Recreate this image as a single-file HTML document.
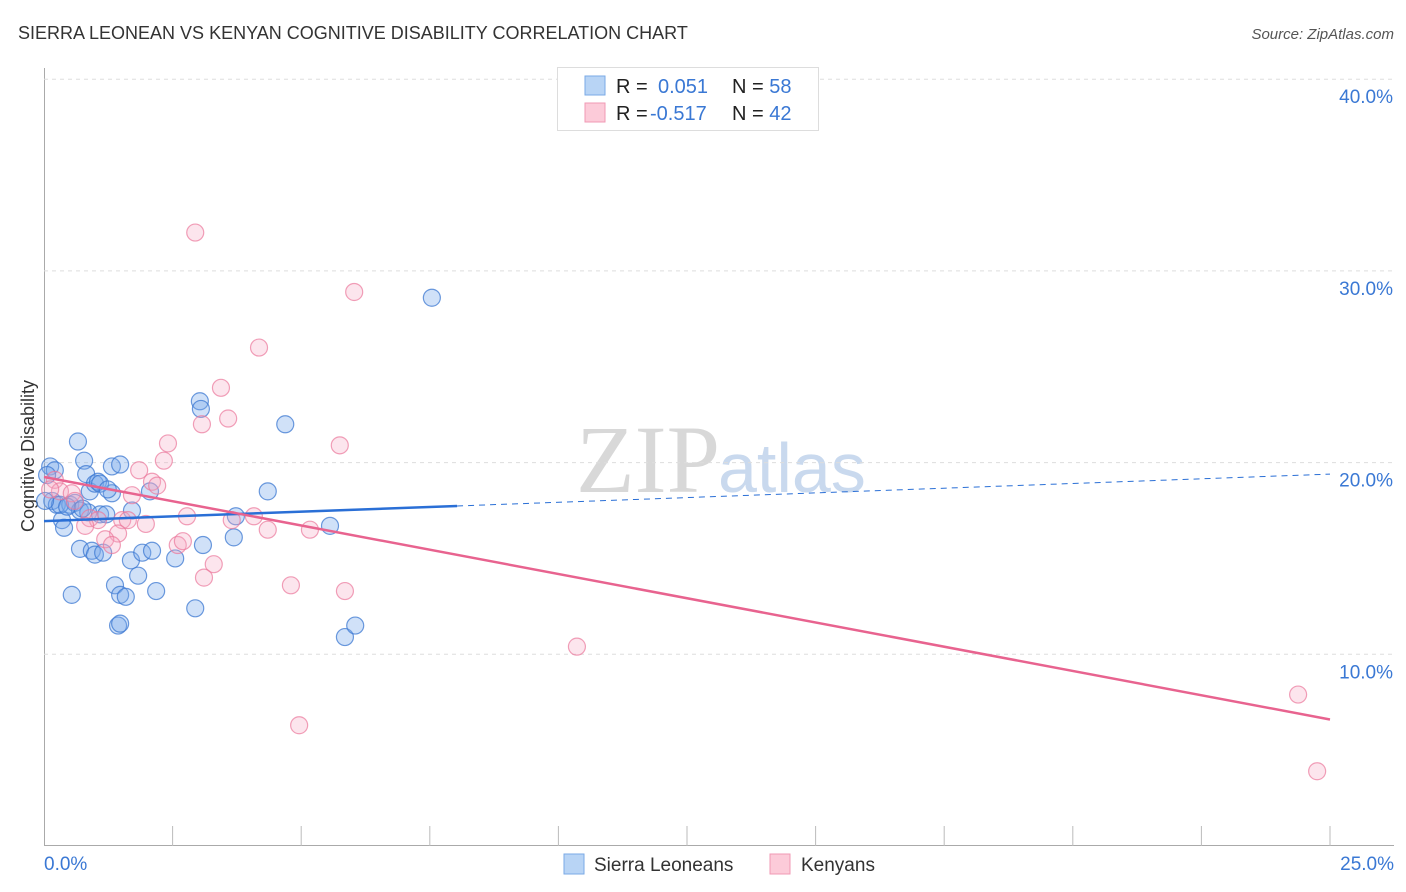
<!DOCTYPE html>
<html><head><meta charset="utf-8">
<style>
body{margin:0;background:#fff;font-family:"Liberation Sans",sans-serif;}
#wrap{position:relative;width:1406px;height:892px;overflow:hidden;}
</style></head>
<body>
<div id="wrap">
<svg id="svg" width="1406" height="892" xmlns="http://www.w3.org/2000/svg">
<text x="18" y="39" font-size="18" fill="#333">SIERRA LEONEAN VS KENYAN COGNITIVE DISABILITY CORRELATION CHART</text>
<text x="1394" y="39" font-size="15" fill="#555" font-style="italic" text-anchor="end">Source: ZipAtlas.com</text>
<text x="720" y="492" font-size="96" fill="#d8d8d8" text-anchor="end" font-family="Liberation Serif,serif">ZIP</text>
<text x="718" y="492" font-size="70" fill="#c9d9ee">atlas</text>
<text transform="translate(34,456) rotate(-90)" font-size="18" fill="#333" text-anchor="middle">Cognitive Disability</text>
<g id="grid"></g><g id="pts"></g><g id="lines"></g>
<g>
<rect x="557.5" y="67.5" width="261" height="63" fill="#fff" stroke="#ddd"/>
<rect x="585" y="76" width="20" height="19" fill="#b8d4f5" stroke="#7aaae6"/>
<rect x="585" y="103" width="20" height="19" fill="#fccbd9" stroke="#f09ab4"/>
<text x="616" y="93" font-size="20" fill="#222">R = <tspan fill="#3a78d4" x="658">0.051</tspan><tspan x="732" fill="#222">N = </tspan><tspan fill="#3a78d4">58</tspan></text>
<text x="616" y="120" font-size="20" fill="#222">R = <tspan fill="#3a78d4" x="650">-0.517</tspan><tspan x="732" fill="#222">N = </tspan><tspan fill="#3a78d4">42</tspan></text>
</g>
<g>
<rect x="564" y="854" width="20" height="20" fill="#b8d4f5" stroke="#7aaae6"/>
<text x="594" y="871" font-size="19" fill="#333">Sierra Leoneans</text>
<rect x="770" y="854" width="20" height="20" fill="#fccbd9" stroke="#f09ab4"/>
<text x="801" y="871" font-size="19" fill="#333">Kenyans</text>
</g>
</svg>
</div>
<script>
const blueX=[.12,.21,.06,.16,.25,.35,.39,.66,.78,.82,.89,.99,1.05,.51,.60,.70,.86,1.09,1.21,1.32,1.48,1.32,1.71,2.06,.70,.93,.99,1.15,.54,1.38,1.48,1.59,1.44,1.48,1.69,1.83,1.91,2.10,2.18,2.55,2.94,3.03,3.05,3.09,3.69,3.73,4.35,4.69,5.56,5.85,6.05,7.54,.31,1.09,1.24,.02,.45,.75];
const blueY=[19.8,19.6,19.35,18.0,17.8,17.0,16.6,21.1,20.1,19.4,18.5,18.9,19.0,17.8,17.9,17.5,17.4,17.3,17.3,19.8,19.9,18.4,17.5,18.5,15.5,15.4,15.2,15.3,13.1,13.6,13.1,13.0,11.5,11.6,14.9,14.1,15.3,15.4,13.3,15.0,12.4,23.2,22.8,15.7,16.1,17.2,18.5,22.0,16.7,10.9,11.5,28.6,17.8,18.9,18.6,18.0,17.7,17.6];
const pinkX=[2.94,6.03,4.18,3.44,3.58,3.07,2.41,5.75,2.33,1.85,2.10,2.20,1.71,.21,.31,.12,.54,.60,.89,1.05,1.52,1.63,1.98,1.44,1.19,1.32,2.78,3.65,4.08,4.35,5.17,2.60,2.70,3.30,3.11,4.80,5.85,4.96,10.36,24.38,24.75,.80];
const pinkY=[32.0,28.9,26.0,23.9,22.3,22.0,21.0,20.9,20.1,19.6,19.0,18.8,18.3,19.1,18.5,18.6,18.4,18.0,17.1,17.0,17.0,17.0,16.8,16.3,16.0,15.7,17.2,17.0,17.2,16.5,16.5,15.7,15.9,14.7,14.0,13.6,13.3,6.3,10.4,7.9,3.9,16.7];
const yTicks=[10,20,30,40];
const yTickLabels=["10.0%","20.0%","30.0%","40.0%"];
const xTickCount=10;
const blueTrend=[16.95,19.4], blueSolidEnd=8.03;
const pinkTrend=[19.25,6.6];
const NS="http://www.w3.org/2000/svg";
const X0=44,X1=1330,Y0=846,PPY=19.17;
function sx(v){return X0+(X1-X0)*v/25;}
function sy(v){return Y0-v*PPY;}
function mk(tag,attrs,parent){const e=document.createElementNS(NS,tag);for(const k in attrs)e.setAttribute(k,attrs[k]);parent.appendChild(e);return e;}
const grid=document.getElementById('grid');
let ax=mk('line',{x1:44.5,y1:68,x2:44.5,y2:846,stroke:'#aaa'},grid);


let bx=mk('line',{x1:44,y1:845.5,x2:1394,y2:845.5,stroke:'#aaa'},grid);


yTicks.forEach((t,i)=>{
  const g=mk('line',{x1:44,x2:1394,y1:sy(t),y2:sy(t),stroke:'#ddd','stroke-dasharray':'4,4'},grid);
  
  
  const tx=mk('text',{x:1393,y:sy(t)+24,'font-size':19,fill:'#3a78d4','text-anchor':'end'},grid);
  tx.textContent=yTickLabels[i];
  
  
});
for(let i=1;i<=xTickCount;i++){
  const v=25*i/xTickCount;
  const t=mk('line',{x1:sx(v),x2:sx(v),y1:826,y2:846,stroke:'#bbb'},grid);
  
  
}
const xl=mk('text',{x:44,y:870,'font-size':19,fill:'#3a78d4'},grid);xl.textContent='0.0%';


const xr=mk('text',{x:1394,y:870,'font-size':19,fill:'#3a78d4','text-anchor':'end'},grid);xr.textContent='25.0%';


const pts=document.getElementById('pts');
blueX.forEach((x,i)=>{
  const c=mk('circle',{cx:sx(x),cy:sy(blueY[i]),r:8.5,fill:'rgba(120,170,235,0.35)',stroke:'rgba(60,120,210,0.75)','stroke-width':1.2},pts);
  
  
});
pinkX.forEach((x,i)=>{
  const c=mk('circle',{cx:sx(x),cy:sy(pinkY[i]),r:8.5,fill:'rgba(245,170,195,0.3)',stroke:'rgba(235,120,155,0.7)','stroke-width':1.2},pts);
  
  
});
const lines=document.getElementById('lines');
function by(v){return blueTrend[0]+(blueTrend[1]-blueTrend[0])*v/25;}
const bl=mk('line',{x1:sx(0),y1:sy(by(0)),x2:sx(blueSolidEnd),y2:sy(by(blueSolidEnd)),stroke:'#2a6fd6','stroke-width':2.5},lines);


const bd=mk('line',{x1:sx(blueSolidEnd),y1:sy(by(blueSolidEnd)),x2:sx(25),y2:sy(by(25)),stroke:'#2a6fd6','stroke-width':1,'stroke-dasharray':'6,5'},lines);


const pl=mk('line',{x1:sx(0),y1:sy(pinkTrend[0]),x2:sx(25),y2:sy(pinkTrend[1]),stroke:'#e8638f','stroke-width':2.5},lines);


</script>
</body></html>
